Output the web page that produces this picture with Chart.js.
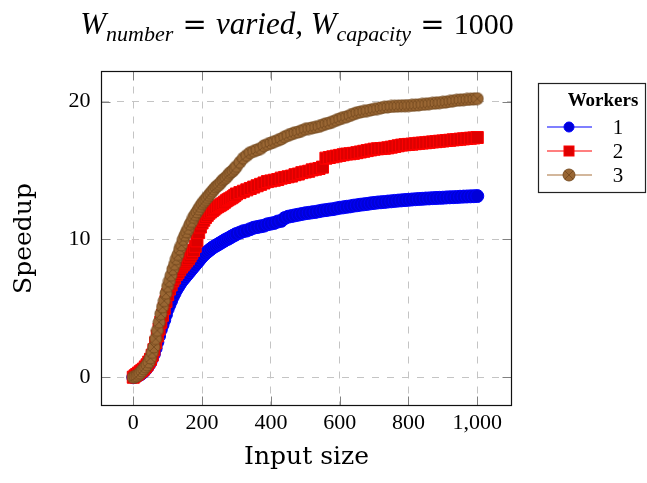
<!DOCTYPE html>
<html>
<head>
<meta charset="utf-8">
<title>Speedup vs input size</title>
<script src="https://cdn.jsdelivr.net/npm/chart.js@4.4.0/dist/chart.umd.min.js"></script>
<style>
  html, body { margin: 0; padding: 0; background: #fff; }
  #wrap { width: 647px; height: 483px; }
</style>
</head>
<body>
<div id="wrap"><canvas id="speedup" width="647" height="483"></canvas></div>
<script>
// input sizes (x) shared by the three series
var inputSizes = [
  0, 5, 10, 15, 20, 25, 30, 35, 40, 45,
  50, 55, 60, 65, 70, 75, 80, 85, 90, 95,
  100, 105, 110, 115, 120, 125, 130, 135, 140, 145,
  150, 155, 160, 165, 170, 175, 180, 185, 190, 195,
  200, 205, 210, 215, 220, 225, 230, 235, 240, 245,
  250, 255, 260, 265, 270, 275, 280, 285, 290, 295,
  300, 310, 320, 330, 340, 350, 360, 370, 380, 390,
  400, 410, 420, 430, 440, 450, 460, 470, 480, 490,
  500, 510, 520, 530, 540, 550, 560, 570, 580, 590,
  600, 610, 620, 630, 640, 650, 660, 670, 680, 690,
  700, 710, 720, 730, 740, 750, 760, 770, 780, 790,
  800, 810, 820, 830, 840, 850, 860, 870, 880, 890,
  900, 910, 920, 930, 940, 950, 960, 970, 980, 990,
  1000
];

var workers1 = [
  0, 0.05, 0.1, 0.15, 0.2, 0.3, 0.4, 0.55, 0.7, 0.9,
  1.1, 1.4, 1.7, 2.1, 2.55, 3.0, 3.45, 3.8, 4.15, 4.55,
  4.95, 5.25, 5.55, 5.85, 6.1, 6.35, 6.55, 6.75, 6.95, 7.1,
  7.25, 7.4, 7.55, 7.7, 7.85, 8.0, 8.15, 8.3, 8.45, 8.6,
  8.75, 8.88, 9.0, 9.1, 9.2, 9.3, 9.4, 9.48, 9.55, 9.62,
  9.7, 9.77, 9.85, 9.92, 10.0, 10.05, 10.12, 10.2, 10.27, 10.33,
  10.4, 10.5, 10.6, 10.65, 10.75, 10.85, 10.9, 10.95, 11.0, 11.1,
  11.15, 11.2, 11.3, 11.35, 11.55, 11.65, 11.7, 11.75, 11.8, 11.85,
  11.9, 11.93, 11.97, 12.0, 12.05, 12.1, 12.13, 12.17, 12.2, 12.25,
  12.3, 12.33, 12.37, 12.4, 12.45, 12.48, 12.52, 12.55, 12.58, 12.62,
  12.65, 12.68, 12.7, 12.72, 12.75, 12.77, 12.8, 12.82, 12.84, 12.86,
  12.88, 12.9, 12.92, 12.94, 12.95, 12.97, 12.98, 13.0, 13.01, 13.02,
  13.03, 13.05, 13.06, 13.07, 13.08, 13.1, 13.11, 13.12, 13.13, 13.14,
  13.15
];

var workers2 = [
  0, 0.1, 0.2, 0.3, 0.4, 0.5, 0.6, 0.75, 0.9, 1.1,
  1.3, 1.6, 2.0, 2.5, 3.0, 3.5, 4.0, 4.5, 5.0, 5.5,
  6.0, 6.4, 6.7, 7.0, 7.2, 7.45, 7.6, 7.8, 8.0, 8.15,
  8.3, 8.45, 8.6, 8.8, 9.0, 9.2, 9.5, 9.9, 10.5, 10.9,
  11.2, 11.4, 11.6, 11.75, 11.9, 12.0, 12.1, 12.2, 12.3, 12.38,
  12.45, 12.52, 12.6, 12.7, 12.8, 12.88, 12.95, 13.02, 13.1, 13.2,
  13.3, 13.4, 13.5, 13.6, 13.7, 13.8, 13.9, 14.0, 14.1, 14.2,
  14.25, 14.3, 14.35, 14.45, 14.5, 14.55, 14.6, 14.7, 14.75, 14.85,
  14.9, 14.95, 15.05, 15.1, 15.15, 15.25, 15.9, 15.95, 16.0, 16.05,
  16.1, 16.15, 16.2, 16.22, 16.25, 16.3, 16.35, 16.4, 16.45, 16.5,
  16.55, 16.58, 16.6, 16.62, 16.65, 16.7, 16.75, 16.8, 16.85, 16.88,
  16.9, 16.92, 16.95, 16.98, 17.0, 17.02, 17.05, 17.08, 17.1, 17.13,
  17.15, 17.18, 17.2, 17.23, 17.25, 17.28, 17.3, 17.33, 17.35, 17.37,
  17.4
];

var workers3 = [
  0, 0.05, 0.1, 0.2, 0.3, 0.45, 0.6, 0.75, 0.9, 1.1,
  1.4, 1.8, 2.2, 2.8, 3.4, 4.0, 4.6, 5.1, 5.55, 6.1,
  6.6, 7.0, 7.4, 7.85, 8.2, 8.6, 8.9, 9.3, 9.6, 10.0,
  10.3, 10.55, 10.8, 11.1, 11.3, 11.6, 11.8, 12.0, 12.2, 12.4,
  12.6, 12.75, 12.9, 13.05, 13.2, 13.35, 13.5, 13.65, 13.8, 13.9,
  14.0, 14.15, 14.3, 14.4, 14.5, 14.65, 14.8, 14.9, 15.0, 15.15,
  15.3, 15.6, 15.9, 16.1, 16.3, 16.4, 16.5, 16.6, 16.8, 16.9,
  17.0, 17.1, 17.2, 17.3, 17.45, 17.55, 17.65, 17.75, 17.8, 17.9,
  18.0, 18.05, 18.1, 18.15, 18.2, 18.3, 18.4, 18.45, 18.55, 18.65,
  18.75, 18.85, 18.9, 19.0, 19.1, 19.2, 19.25, 19.3, 19.35, 19.4,
  19.45, 19.5, 19.55, 19.6, 19.62, 19.65, 19.67, 19.68, 19.7, 19.7,
  19.72, 19.73, 19.75, 19.77, 19.8, 19.82, 19.85, 19.88, 19.9, 19.93,
  19.95, 19.98, 20.02, 20.06, 20.1, 20.12, 20.14, 20.16, 20.18, 20.2,
  20.22
];

var workerLabels = ['1', '2', '3'];
var xTicks = [0, 200, 400, 600, 800, 1000];
var yTicks = [0, 10, 20];

var SERIF = '"Liberation Serif", "DejaVu Serif", serif';
var LABEL_SERIF = '"DejaVu Serif", "Liberation Serif", serif';

function toPoints(ys) {
  var pts = [];
  for (var i = 0; i < inputSizes.length; i++) {
    pts.push({x: inputSizes[i], y: ys[i]});
  }
  return pts;
}

// circle with a cross inside (pgfplots otimes*)
function otimesMarker(r, fill, stroke) {
  var c = document.createElement('canvas');
  var s = Math.ceil(r * 2 + 2);
  c.width = s;
  c.height = s;
  var g = c.getContext('2d');
  var m = s / 2;
  g.beginPath();
  g.arc(m, m, r, 0, Math.PI * 2);
  g.fillStyle = fill;
  g.fill();
  g.lineWidth = 0.9;
  g.strokeStyle = stroke;
  g.stroke();
  var d = r * Math.SQRT1_2;
  g.beginPath();
  g.moveTo(m - d, m - d); g.lineTo(m + d, m + d);
  g.moveTo(m + d, m - d); g.lineTo(m - d, m + d);
  g.stroke();
  return c;
}

var brownMarker = otimesMarker(6, '#996633', '#74491f');

var styles = [
  {line: '#0000ff', fill: '#0000d8', stroke: '#0000ff', shape: 'circle', radius: 6.5},
  {line: '#ff0000', fill: '#dd0000', stroke: '#ff0000', shape: 'rect', radius: 8.5},
  {line: '#a8703a', fill: '#996633', stroke: '#74491f', shape: brownMarker, radius: 6}
];

// title with subscripts, drawn as text runs
var titleRuns = [
  {t: 'W', font: 'italic 31px ' + SERIF, dy: 0},
  {t: 'number', font: 'italic 22px ' + SERIF, dy: 7},
  {t: ' = ', font: '29px ' + LABEL_SERIF, dy: 0},
  {t: 'varied', font: 'italic 31px ' + SERIF, dy: 0},
  {t: ', ', font: 'italic 31px ' + SERIF, dy: 0},
  {t: 'W', font: 'italic 31px ' + SERIF, dy: 0},
  {t: 'capacity', font: 'italic 22px ' + SERIF, dy: 7},
  {t: ' = ', font: '29px ' + LABEL_SERIF, dy: 0},
  {t: '1000', font: '30px ' + SERIF, dy: 0}
];

var titlePlugin = {
  id: 'mathTitle',
  afterDraw: function(chart) {
    var ctx = chart.ctx;
    var total = 0, i;
    ctx.save();
    for (i = 0; i < titleRuns.length; i++) {
      ctx.font = titleRuns[i].font;
      titleRuns[i].w = ctx.measureText(titleRuns[i].t).width;
      total += titleRuns[i].w;
    }
    var x = 297 - total / 2;
    var base = 34;
    ctx.fillStyle = '#000';
    ctx.textBaseline = 'alphabetic';
    ctx.textAlign = 'left';
    for (i = 0; i < titleRuns.length; i++) {
      ctx.font = titleRuns[i].font;
      ctx.fillText(titleRuns[i].t, x, base + titleRuns[i].dy);
      x += titleRuns[i].w;
    }
    ctx.restore();
  }
};

// frame and inward tick marks like pgfplots
var framePlugin = {
  id: 'pgfFrame',
  afterDatasetsDraw: function(chart) {
    var ctx = chart.ctx;
    var a = chart.chartArea;
    var xs = chart.scales.x, ys = chart.scales.y;
    var len = 9, i, p;
    ctx.save();
    ctx.strokeStyle = '#808080';
    ctx.lineWidth = 1;
    ctx.beginPath();
    for (i = 0; i < xTicks.length; i++) {
      p = Math.round(xs.getPixelForValue(xTicks[i])) + 0.5;
      ctx.moveTo(p, a.bottom); ctx.lineTo(p, a.bottom - len);
      ctx.moveTo(p, a.top); ctx.lineTo(p, a.top + len);
    }
    for (i = 0; i < yTicks.length; i++) {
      p = Math.round(ys.getPixelForValue(yTicks[i])) + 0.5;
      ctx.moveTo(a.left, p); ctx.lineTo(a.left + len, p);
      ctx.moveTo(a.right, p); ctx.lineTo(a.right - len, p);
    }
    ctx.stroke();
    ctx.strokeStyle = '#111';
    ctx.lineWidth = 1.2;
    ctx.strokeRect(a.left, a.top, a.right - a.left, a.bottom - a.top);
    ctx.restore();
  }
};

var legendPlugin = {
  id: 'workersLegend',
  afterDraw: function(chart) {
    var ctx = chart.ctx;
    var bx = 538.5, by = 83.5, bw = 107, bh = 109;
    var rows = [127, 151, 175];
    ctx.save();
    ctx.fillStyle = '#fff';
    ctx.fillRect(bx, by, bw, bh);
    ctx.strokeStyle = '#222';
    ctx.lineWidth = 1.2;
    ctx.strokeRect(bx, by, bw, bh);
    ctx.fillStyle = '#000';
    ctx.font = 'bold 19px ' + SERIF;
    ctx.textAlign = 'center';
    ctx.textBaseline = 'alphabetic';
    ctx.fillText('Workers', 603, 106);
    for (var i = 0; i < rows.length; i++) {
      var y = rows[i];
      var st = styles[i];
      ctx.strokeStyle = st.line;
      ctx.lineWidth = 1.2;
      ctx.beginPath();
      ctx.moveTo(547, y); ctx.lineTo(592, y);
      ctx.stroke();
      if (st.shape === 'circle') {
        ctx.beginPath();
        ctx.arc(569, y, 5, 0, Math.PI * 2);
        ctx.fillStyle = st.fill;
        ctx.fill();
        ctx.strokeStyle = st.stroke;
        ctx.lineWidth = 1;
        ctx.stroke();
      } else if (st.shape === 'rect') {
        ctx.fillStyle = st.fill;
        ctx.fillRect(564, y - 5, 10, 10);
        ctx.strokeStyle = st.stroke;
        ctx.lineWidth = 1;
        ctx.strokeRect(564, y - 5, 10, 10);
      } else {
        ctx.drawImage(st.shape, 569 - st.shape.width / 2, y - st.shape.height / 2);
      }
      ctx.fillStyle = '#000';
      ctx.font = '21px ' + SERIF;
      ctx.textAlign = 'center';
      ctx.fillText(workerLabels[i], 618, y + 7);
    }
    ctx.restore();
  }
};

var series = [workers1, workers2, workers3];
var datasets = [];
for (var k = 0; k < series.length; k++) {
  var st = styles[k];
  datasets.push({
    label: workerLabels[k],
    data: toPoints(series[k]),
    showLine: true,
    borderColor: st.line,
    borderWidth: 1,
    pointStyle: st.shape,
    pointRadius: st.radius,
    pointBackgroundColor: st.fill,
    pointBorderColor: st.stroke,
    pointBorderWidth: 1,
    tension: 0,
    order: 2 - k // last series on top
  });
}

new Chart(document.getElementById('speedup'), {
  type: 'scatter',
  data: {datasets: datasets},
  plugins: [titlePlugin, framePlugin, legendPlugin],
  options: {
    responsive: false,
    animation: false,
    devicePixelRatio: 1,
    layout: {padding: {left: 0, top: 71.5, right: 135.5, bottom: 0}},
    plugins: {
      legend: {display: false},
      tooltip: {enabled: false}
    },
    scales: {
      x: {
        type: 'linear',
        min: -92.4,
        max: 1099.5,
        afterBuildTicks: function(scale) {
          scale.ticks = xTicks.map(function(v) { return {value: v}; });
        },
        afterFit: function(scale) { scale.height = 77.5; },
        ticks: {
          autoSkip: false,
          maxRotation: 0,
          padding: 5,
          color: '#000',
          font: {family: SERIF, size: 22},
          callback: function(v) { return v.toLocaleString('en-US'); }
        },
        grid: {color: '#c4c4c4', lineWidth: 1, drawTicks: false},
        border: {display: false, dash: [7, 8]},
        title: {
          display: true,
          text: 'Input size',
          color: '#000',
          font: {family: LABEL_SERIF, size: 25},
          padding: {top: 0, bottom: 10.6}
        }
      },
      y: {
        type: 'linear',
        min: -2.05,
        max: 22.19,
        afterBuildTicks: function(scale) {
          scale.ticks = yTicks.map(function(v) { return {value: v}; });
        },
        afterFit: function(scale) { scale.width = 101.5; },
        ticks: {
          autoSkip: false,
          padding: 11,
          color: '#000',
          font: {family: SERIF, size: 22}
        },
        grid: {color: '#c4c4c4', lineWidth: 1, drawTicks: false},
        border: {display: false, dash: [7, 8]},
        title: {
          display: true,
          text: 'Speedup',
          color: '#000',
          font: {family: LABEL_SERIF, size: 25},
          padding: {top: 9.5, bottom: 0}
        }
      }
    }
  }
});
</script>
</body>
</html>
